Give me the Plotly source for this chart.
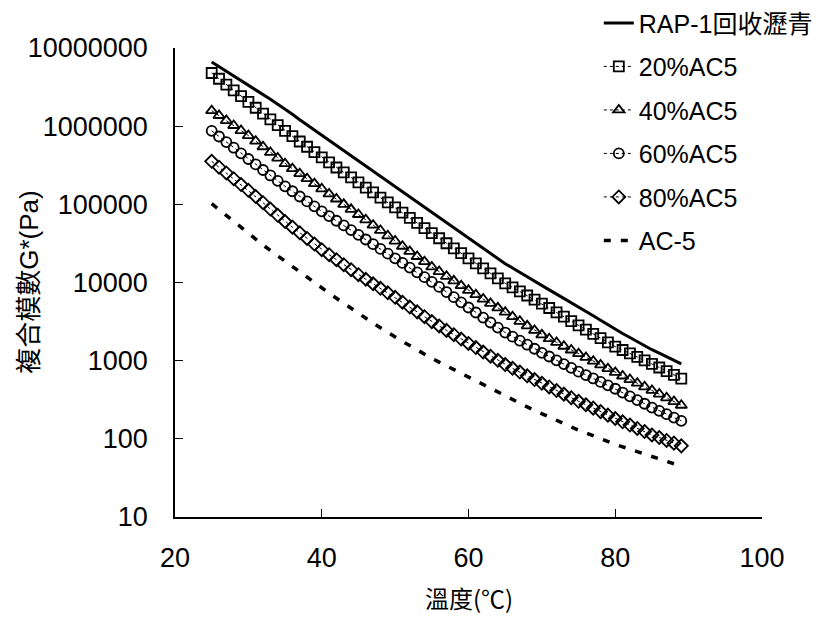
import plotly.graph_objects as go

# Test temperatures (°C)
temperature = [25, 26, 27, 28, 29, 30, 31, 32, 33, 34, 35, 36, 37, 38, 39, 40,
               41, 42, 43, 44, 45, 46, 47, 48, 49, 50, 51, 52, 53, 54, 55, 56,
               57, 58, 59, 60, 61, 62, 63, 64, 65, 66, 67, 68, 69, 70, 71, 72,
               73, 74, 75, 76, 77, 78, 79, 80, 81, 82, 83, 84, 85, 86, 87, 88, 89]

# Complex modulus G* (Pa) for each binder
rap1 = [6610000, 5780000, 5060000, 4430000, 3870000, 3390000, 2940000, 2550000,
        2210000, 1910000, 1660000, 1420000, 1210000, 1040000, 887000, 759000,
        652000, 560000, 481000, 413000, 355000, 305000, 262000, 225000, 193000,
        166000, 143000, 122000, 105000, 90400, 77600, 67000, 57800, 49900, 43100,
        37200, 31900, 27400, 23600, 20200, 17400, 15300, 13400, 11800, 10400,
        9120, 8050, 7110, 6280, 5550, 4900, 4290, 3750, 3280, 2870, 2510, 2230,
        1980, 1750, 1560, 1380, 1250, 1120, 1010, 912]

ac5_20 = [4790000, 4040000, 3400000, 2870000, 2420000, 2040000, 1720000, 1450000,
          1220000, 1030000, 871000, 745000, 637000, 545000, 466000, 398000,
          344000, 296000, 256000, 221000, 191000, 164000, 142000, 122000, 106000,
          91200, 78300, 67300, 57800, 49700, 42700, 36800, 31800, 27400, 23700,
          20400, 17600, 15200, 13100, 11300, 9770, 8670, 7690, 6820, 6050, 5370,
          4720, 4150, 3650, 3210, 2820, 2490, 2200, 1940, 1710, 1510, 1370, 1240,
          1120, 1010, 912, 818, 733, 657, 589]

ac5_40 = [1580000, 1370000, 1180000, 1020000, 879000, 759000, 643000, 545000,
          461000, 391000, 331000, 286000, 247000, 213000, 184000, 158000, 136000,
          117000, 100000, 86300, 74100, 63400, 54200, 46300, 39600, 33900, 29100,
          25000, 21500, 18500, 15800, 13800, 12000, 10500, 9120, 7940, 6980, 6140,
          5400, 4740, 4170, 3650, 3190, 2790, 2440, 2140, 1910, 1710, 1530, 1370,
          1230, 1100, 986, 883, 791, 708, 637, 573, 515, 463, 417, 374, 335, 300,
          269]

ac5_60 = [871000, 738000, 625000, 530000, 449000, 380000, 324000, 275000, 234000,
          200000, 170000, 147000, 126000, 109000, 94200, 81300, 70800, 61700,
          53700, 46800, 40700, 35500, 30900, 26900, 23400, 20400, 17800, 15500,
          13500, 11700, 10200, 8790, 7550, 6490, 5570, 4790, 4130, 3560, 3080,
          2650, 2290, 2030, 1800, 1600, 1420, 1260, 1130, 1010, 904, 809, 724,
          655, 592, 535, 483, 437, 391, 350, 313, 281, 251, 228, 207, 187, 170]

ac5_80 = [355000, 299000, 252000, 213000, 179000, 151000, 126000, 105000, 87100,
          72400, 60300, 51100, 43300, 36600, 31000, 26300, 22700, 19600, 16900,
          14600, 12600, 11000, 9640, 8430, 7380, 6460, 5600, 4850, 4210, 3650,
          3160, 2780, 2440, 2150, 1890, 1660, 1470, 1290, 1140, 1010, 891, 798,
          714, 640, 573, 513, 461, 415, 373, 336, 302, 273, 247, 223, 201, 182,
          165, 150, 136, 124, 112, 104, 95.5, 88.1, 81.3]

ac5 = [102000, 85500, 71400, 59700, 49900, 41700, 35500, 30200, 25700, 21900,
       18600, 15900, 13600, 11600, 9950, 8510, 7310, 6280, 5400, 4630, 3980,
       3470, 3020, 2630, 2290, 2000, 1760, 1560, 1370, 1210, 1070, 959, 859, 769,
       689, 617, 550, 490, 437, 389, 347, 313, 283, 256, 231, 209, 190, 172, 156,
       142, 129, 119, 109, 100, 92.5, 85.1, 79.1, 73.5, 68.2, 63.4, 58.9, 55.0,
       51.3, 47.9, 44.7]

y_tick_values = [10, 100, 1000, 10000, 100000, 1000000, 10000000]
y_tick_labels = ["10", "100", "1000", "10000", "100000", "1000000", "10000000"]
x_tick_values = [20, 40, 60, 80, 100]

LATIN = "Liberation Sans, Arial, sans-serif"
MIXED = "Liberation Sans, Arial, Noto Sans CJK TC, sans-serif"
CJK = "Noto Sans CJK TC, Liberation Sans, sans-serif"

fig = go.Figure()

fig.add_trace(go.Scatter(
    x=temperature, y=rap1, name="RAP-1回收瀝青", mode="lines",
    line=dict(color="black", width=3), legendgroup="g1",
))

marker_series = [
    ("20%AC5", ac5_20, "square-open", "g2"),
    ("40%AC5", ac5_40, "triangle-up-open", "g3"),
    ("60%AC5", ac5_60, "circle-open", "g4"),
    ("80%AC5", ac5_80, "diamond-open", "g5"),
]
for label, values, symbol, group in marker_series:
    fig.add_trace(go.Scatter(
        x=temperature, y=values, name=label, mode="lines+markers",
        line=dict(color="black", width=1, dash="3px,3px"),
        marker=dict(symbol=symbol, size=10, color="black",
                    line=dict(color="black", width=1.8)),
        legendgroup=group,
    ))

fig.add_trace(go.Scatter(
    x=temperature, y=ac5, name="AC-5", mode="lines",
    line=dict(color="black", width=3.5, dash="7px,10px"), legendgroup="g6",
))

fig.update_layout(
    width=819, height=619,
    margin=dict(l=175, r=57, t=48, b=102, autoexpand=False),
    paper_bgcolor="white", plot_bgcolor="white",
    font=dict(family=LATIN, size=26, color="black"),
    showlegend=True,
    legend=dict(
        x=0.722, y=1.102, xanchor="left", yanchor="top",
        font=dict(family=MIXED, size=25, color="black"),
        bgcolor="rgba(0,0,0,0)", tracegroupgap=8, itemwidth=30,
    ),
    xaxis=dict(
        range=[20, 100], tickvals=x_tick_values, ticks="inside", ticklen=8,
        tickwidth=1.2, tickcolor="black", showline=True, linecolor="black",
        linewidth=1.5, showgrid=False, zeroline=False, ticklabelstandoff=16,
        tickfont=dict(family=LATIN, size=27),
    ),
    yaxis=dict(
        type="log", range=[1, 7], tickvals=y_tick_values, ticktext=y_tick_labels,
        ticks="inside", ticklen=8, tickwidth=1.2, tickcolor="black",
        showline=True, linecolor="black", linewidth=1.5, showgrid=False,
        zeroline=False, ticklabelstandoff=20,
        tickfont=dict(family=LATIN, size=27),
    ),
    annotations=[
        dict(text="複合模數G*(Pa)", xref="paper", yref="paper", x=-0.25, y=0.5,
             xanchor="center", yanchor="middle", textangle=-90, showarrow=False,
             font=dict(family=MIXED, size=26, color="black")),
        dict(text="溫度(℃)", xref="paper", yref="paper", x=0.5, y=-0.172,
             xanchor="center", yanchor="middle", showarrow=False,
             font=dict(family=CJK, size=24, color="black")),
    ],
)

fig.write_html("out.html")
